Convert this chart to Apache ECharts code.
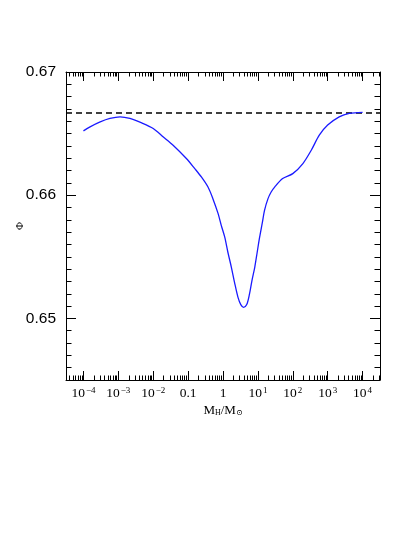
<!DOCTYPE html>
<html>
<head>
<meta charset="utf-8">
<title>Phi vs M_H</title>
<script src="https://cdn.jsdelivr.net/npm/echarts@6/dist/echarts.min.js"></script>
<style>
  html, body { margin: 0; padding: 0; background: #fff; }
  #chart { width: 415px; height: 537px; }
</style>
</head>
<body>
<div id="chart"></div>
<script>
// log10(M_H / M_sun) and Phi
const logMass = [-4.0, -3.81, -3.52, -3.24, -2.95, -2.67, -2.33, -2.0, -1.71, -1.43, -1.05,
  -0.81, -0.62, -0.43, -0.29, -0.14, -0.05, 0.05, 0.14, 0.24, 0.33, 0.43, 0.51, 0.59,
  0.68, 0.76, 0.83, 0.91, 0.98, 1.05, 1.13, 1.19, 1.29, 1.38, 1.48, 1.71,
  2.0, 2.29, 2.53, 2.76, 3.0, 3.33, 3.62, 4.0]
const phi = [0.66522, 0.66555, 0.66595, 0.66623, 0.66636, 0.66623, 0.66587, 0.66542, 0.66473, 0.66406, 0.66298,
  0.66216, 0.66148, 0.66066, 0.65972, 0.65850, 0.65755, 0.65659, 0.65537, 0.65415, 0.65293, 0.65171, 0.65112, 0.65090,
  0.65112, 0.65199, 0.65307, 0.65415, 0.65537, 0.65659, 0.65781, 0.65877, 0.65972, 0.66026, 0.66066, 0.66135,
  0.66175, 0.66257, 0.66365, 0.66487, 0.66569, 0.66636, 0.66664, 0.66672]

// dashed reference level Phi = 2/3
const phiLimit = 2 / 3

// ticks
const xDecades = [-4, -3, -2, -1, 0, 1, 2, 3, 4]
const minorFactors = [2, 3, 4, 5, 6, 7, 8, 9]
const yMajor = [0.65, 0.66, 0.67]
const xRange = [-4.5, 4.5]
const yRange = [0.645, 0.67]

const xMinor = []
for (let d = -5; d <= 4; d++) {
  minorFactors.forEach(f => {
    const v = d + Math.log10(f)
    if (v > xRange[0] && v < xRange[1]) xMinor.push(v)
  })
}
const yMinor = []
for (let i = 0; i <= 25; i++) yMinor.push(Math.round((0.645 + i * 0.001) * 1000) / 1000)

function xLabel(v) {
  const n = Math.round(v)
  if (n === -1) return '{b|0.1}'
  if (n === 0) return '{b|1}'
  return '{b|10}{s|' + (n < 0 ? '\u2212' + (-n) : n) + '}'
}

const serif = '"Liberation Serif", "DejaVu Serif", serif'
const sans = '"Liberation Sans", Arial, sans-serif'

function xAxis(position, major) {
  return {
    type: 'value', gridIndex: 0, position: position,
    min: xRange[0], max: xRange[1],
    splitLine: { show: false },
    axisLine: { show: major, onZero: false, lineStyle: { color: '#000', width: 1 } },
    axisTick: {
      show: true, inside: true, length: major ? 9 : 4.5,
      customValues: major ? xDecades : xMinor,
      lineStyle: { color: '#000', width: 1 }
    },
    axisLabel: {
      show: major && position === 'bottom',
      customValues: xDecades,
      margin: 6,
      formatter: xLabel,
      rich: {
        b: { fontFamily: serif, fontSize: 13.5, color: '#000' },
        s: { fontFamily: serif, fontSize: 9, color: '#000', verticalAlign: 'top', padding: [0, 0, 0, 1] }
      }
    }
  }
}

function yAxis(position, major) {
  return {
    type: 'value', gridIndex: 0, position: position,
    min: yRange[0], max: yRange[1],
    splitLine: { show: false },
    axisLine: { show: major, onZero: false, lineStyle: { color: '#000', width: 1 } },
    axisTick: {
      show: true, inside: true, length: major ? 10 : 5.5,
      customValues: major ? yMajor : yMinor,
      lineStyle: { color: '#000', width: 1 }
    },
    axisLabel: {
      show: major && position === 'left',
      customValues: yMajor,
      margin: 10,
      formatter: v => v.toFixed(2),
      fontFamily: sans, fontSize: 15.5, color: '#000'
    }
  }
}

const xAxes = [xAxis('bottom', true), xAxis('bottom', false), xAxis('top', true), xAxis('top', false)]
xAxes[0].name = '{a|M}{s|H}{a|/M}{s|\u2299}'
xAxes[0].nameLocation = 'middle'
xAxes[0].nameGap = 24
xAxes[0].nameMoveOverlap = false
xAxes[0].nameTextStyle = {
  rich: {
    a: { fontFamily: serif, fontSize: 13, color: '#000' },
    s: { fontFamily: serif, fontSize: 8, color: '#000', verticalAlign: 'bottom' }
  }
}

const yAxes = [yAxis('left', true), yAxis('left', false), yAxis('right', true), yAxis('right', false)]
yAxes[0].name = '\u03A6'
yAxes[0].nameLocation = 'middle'
yAxes[0].nameGap = 40
yAxes[0].nameMoveOverlap = false
yAxes[0].nameTextStyle = { fontFamily: serif, fontSize: 11, color: '#000' }

const chart = echarts.init(document.getElementById('chart'), null, { renderer: 'canvas' })
chart.setOption({
  animation: false,
  backgroundColor: '#fff',
  grid: { left: 66, top: 72, right: 35, bottom: 157 },
  xAxis: xAxes,
  yAxis: yAxes,
  series: [{
    type: 'line',
    xAxisIndex: 0,
    yAxisIndex: 0,
    data: xRange.map(x => [x, phiLimit]),
    symbol: 'none',
    silent: true,
    lineStyle: { color: '#000', width: 1.4, type: [6, 4] }
  }, {
    type: 'line',
    xAxisIndex: 0,
    yAxisIndex: 0,
    data: logMass.map((x, i) => [x, phi[i]]),
    smooth: 0.3,
    symbol: 'none',
    lineStyle: { color: '#1a1aff', width: 1.3 }
  }]
})
</script>
</body>
</html>
